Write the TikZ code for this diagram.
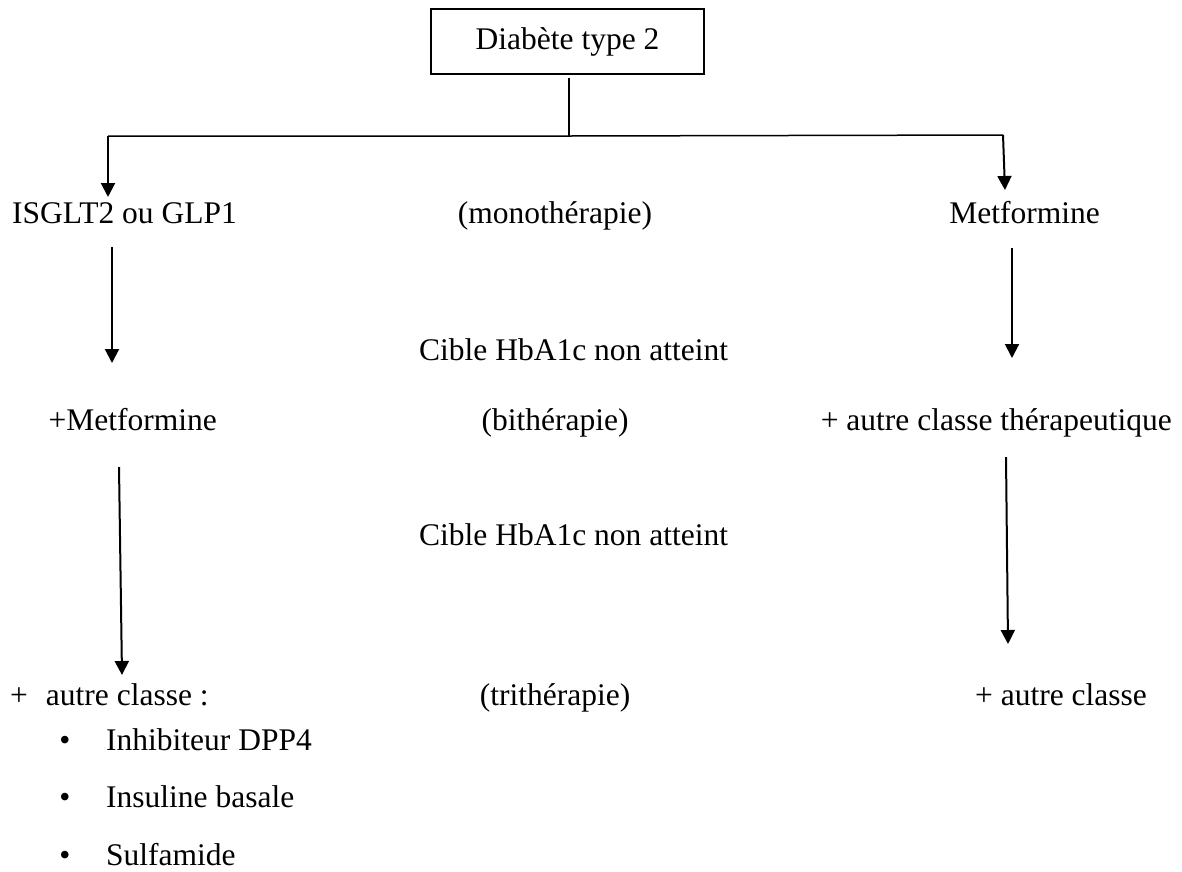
\documentclass[tikz,border=0pt]{standalone}
\usepackage{fontspec}
\setmainfont{Liberation Serif}
\usetikzlibrary{arrows.meta}
\begin{document}
\begin{tikzpicture}[x=1pt,y=-1pt,
  txt/.style={inner sep=0pt,font=\fontsize{31.5}{38}\selectfont},
  rootbox/.style={draw,line width=1.3pt,inner sep=0pt,minimum width=273pt,minimum height=65pt,font=\fontsize{31.5}{38}\selectfont},
  conn/.style={line width=1.5pt},
  arr/.style={line width=2pt,-{Triangle[width=14pt,length=14pt]}}]
\useasboundingbox (0,0) rectangle (1182,871);
% root
\node[rootbox] (root) at (567.5,41.5) {Diabète type 2};
% row 1
\node[txt,anchor=base west] (isglt) at (12,223) {ISGLT2 ou GLP1};
\node[txt,anchor=base] (mono) at (555,223) {(monothérapie)};
\node[txt,anchor=base east] (metf) at (1100,223) {Metformine};
% cible 1
\node[txt,anchor=base west] (cib1) at (419,360) {Cible HbA1c non atteint};
% row 2
\node[txt,anchor=base east] (pmetf) at (217,430) {+Metformine};
\node[txt,anchor=base] (bi) at (555,430) {(bithérapie)};
\node[txt,anchor=base east] (autre1) at (1172,430) {+ autre classe thérapeutique};
% cible 2
\node[txt,anchor=base west] (cib2) at (419,545) {Cible HbA1c non atteint};
% row 3
\node[txt,anchor=base west] (autre2) at (10,705) {+\hspace{18pt}autre classe :};
\node[txt,anchor=base] (tri) at (555,705) {(trithérapie)};
\node[txt,anchor=base west] (autre3) at (975,705) {+ autre classe};
% bullets
\node[txt,anchor=base] (b1) at (65,750) {\textbullet};
\node[txt,anchor=base west] (l1) at (106,750) {Inhibiteur DPP4};
\node[txt,anchor=base] (b2) at (65,807) {\textbullet};
\node[txt,anchor=base west] (l2) at (106,807) {Insuline basale};
\node[txt,anchor=base] (b3) at (65,865) {\textbullet};
\node[txt,anchor=base west] (l3) at (106,865) {Sulfamide};
% connector coordinates
\coordinate (st) at (569,78);
\coordinate (hj) at (569,136);
\coordinate (hl) at (108,136);
\coordinate (hr) at (1003,135);
\coordinate (a1e) at (108,197);
\coordinate (b1e) at (1005,190);
\coordinate (a2s) at (112,247);
\coordinate (a2e) at (112,363);
\coordinate (b2s) at (1012,248);
\coordinate (b2e) at (1012,358);
\coordinate (a3s) at (119,467);
\coordinate (a3e) at (122,675);
\coordinate (b3s) at (1006,457);
\coordinate (b3e) at (1008,644);
\draw[conn] (st) -- (hj);
\draw[conn] (hl) -- (hj) -- (hr);
\draw[arr] (hl) -- (a1e);
\draw[arr] (hr) -- (b1e);
\draw[arr] (a2s) -- (a2e);
\draw[arr] (b2s) -- (b2e);
\draw[arr] (a3s) -- (a3e);
\draw[arr] (b3s) -- (b3e);
\end{tikzpicture}
\end{document}
